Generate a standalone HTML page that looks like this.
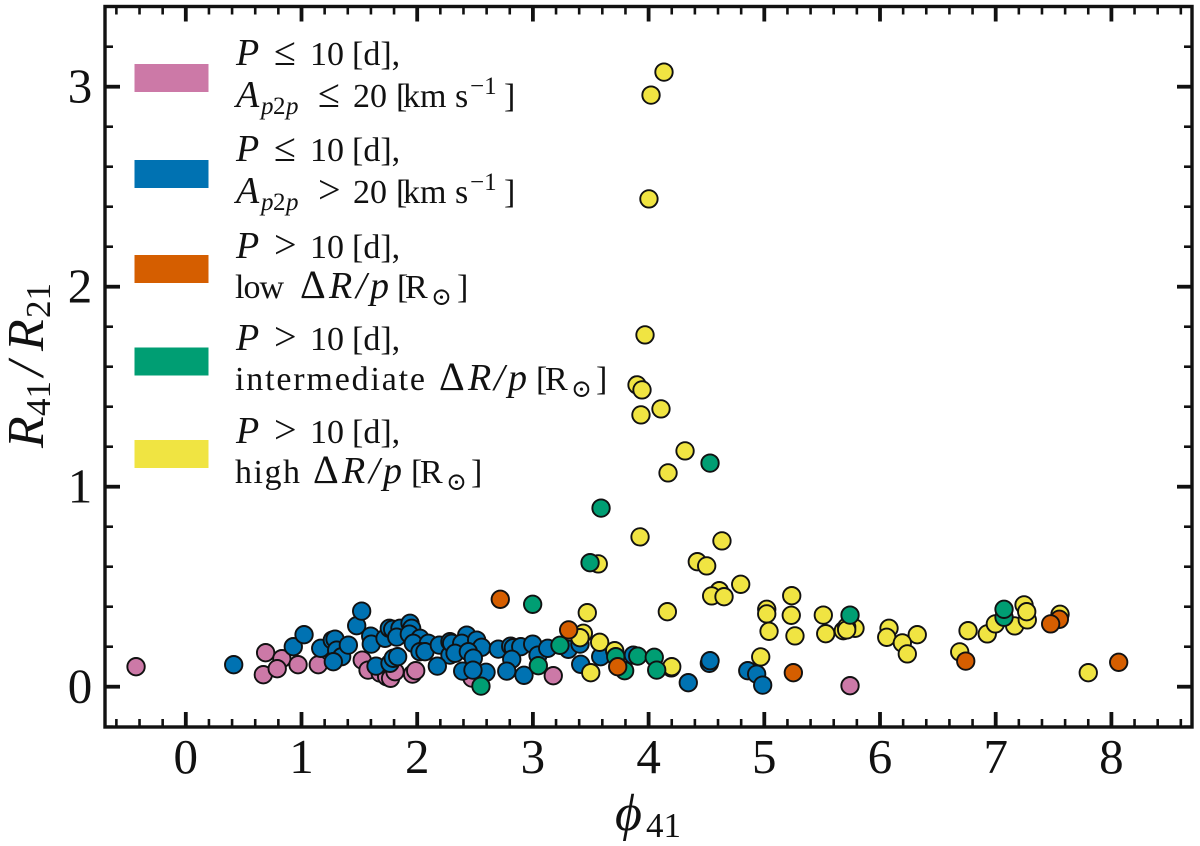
<!DOCTYPE html>
<html lang="en">
<head>
<meta charset="utf-8">
<title>R41/R21 versus phi41 scatter</title>
<style>
html,body{margin:0;padding:0;background:#fff;}
svg{display:block;}
text{font-family:"Liberation Serif","DejaVu Serif",serif;fill:#111;}
.leg{font-size:34px;}
.it{font-style:italic;}
.p{font-style:italic;font-size:38px;}
.m{font-size:40px;}
.sub{font-size:25px;}
.tick{font-size:49px;}
</style>
</head>
<body>
<svg id="chart" xmlns="http://www.w3.org/2000/svg" width="1200" height="846" viewBox="0 0 1200 846">
  <rect x="0" y="0" width="1200" height="846" fill="#fff"/>
  <g id="points"></g>
  <g id="ticks"></g>
  <rect x="105" y="6.5" width="1087" height="720.5" fill="none" stroke="#111" stroke-width="3.4"/>
  <g id="tick-labels"></g>

  <g>
    <text transform="translate(43,448) rotate(-90)" style="font-size:52px" class="it">R</text>
    <text transform="translate(50,416) rotate(-90)" style="font-size:35px">41</text>
    <text transform="translate(43,376) rotate(-90)" style="font-size:52px" class="it">/</text>
    <text transform="translate(43,351) rotate(-90)" style="font-size:52px" class="it">R</text>
    <text transform="translate(50,318) rotate(-90)" style="font-size:35px">21</text>
  </g>
  <g>
    <text x="615" y="830" style="font-size:52px" class="it">&#981;</text>
    <text x="646" y="837" style="font-size:35px">41</text>
  </g>

  <g>
    <g>
      <rect x="134.5" y="64" width="74" height="28" fill="#CC79A7"/>
      <text class="leg"><tspan class="p" x="236" y="65">P</tspan><tspan class="m" x="274" y="65">&#8804;</tspan><tspan x="310" y="65">10</tspan><tspan x="352" y="65">[d],</tspan></text>
      <text class="leg"><tspan class="p" x="236" y="107">A</tspan><tspan class="it sub" x="261" y="114">p</tspan><tspan class="sub" x="273" y="114">2</tspan><tspan class="it sub" x="286" y="114">p</tspan><tspan class="m" x="318" y="107">&#8804;</tspan><tspan x="353" y="107">20</tspan><tspan x="396" y="107">[</tspan><tspan x="403" y="107">km</tspan><tspan x="455" y="107">s</tspan><tspan class="sub" x="470" y="94">&#8722;1</tspan><tspan x="504" y="107">]</tspan></text>
    </g>
    <g>
      <rect x="134.5" y="160" width="74" height="28" fill="#0072B2"/>
      <text class="leg"><tspan class="p" x="236" y="161">P</tspan><tspan class="m" x="274" y="161">&#8804;</tspan><tspan x="310" y="161">10</tspan><tspan x="352" y="161">[d],</tspan></text>
      <text class="leg"><tspan class="p" x="236" y="203">A</tspan><tspan class="it sub" x="261" y="210">p</tspan><tspan class="sub" x="273" y="210">2</tspan><tspan class="it sub" x="286" y="210">p</tspan><tspan class="m" x="318" y="203">&gt;</tspan><tspan x="353" y="203">20</tspan><tspan x="396" y="203">[</tspan><tspan x="403" y="203">km</tspan><tspan x="455" y="203">s</tspan><tspan class="sub" x="470" y="190">&#8722;1</tspan><tspan x="504" y="203">]</tspan></text>
    </g>
    <g>
      <rect x="134.5" y="255" width="74" height="28" fill="#D55E00"/>
      <text class="leg"><tspan class="p" x="236" y="258">P</tspan><tspan class="m" x="274" y="258">&gt;</tspan><tspan x="310" y="258">10</tspan><tspan x="352" y="258">[d],</tspan></text>
      <text class="leg"><tspan x="235" y="298" textLength="49" lengthAdjust="spacing">low</tspan><tspan class="m" x="300" y="298">&#916;</tspan><tspan class="p" x="329" y="298">R</tspan><tspan class="p" x="356" y="298">/</tspan><tspan class="p" x="370" y="298">p</tspan><tspan x="397" y="298">[</tspan><tspan x="405" y="298">R</tspan><tspan class="sub" x="431" y="305">&#8857;</tspan><tspan x="457" y="298">]</tspan></text>
    </g>
    <g>
      <rect x="134.5" y="347.5" width="74" height="28" fill="#009E73"/>
      <text class="leg"><tspan class="p" x="236" y="350">P</tspan><tspan class="m" x="274" y="350">&gt;</tspan><tspan x="310" y="350">10</tspan><tspan x="352" y="350">[d],</tspan></text>
      <text class="leg"><tspan x="235" y="390" textLength="190" lengthAdjust="spacing">intermediate</tspan><tspan class="m" x="439" y="390">&#916;</tspan><tspan class="p" x="468" y="390">R</tspan><tspan class="p" x="494" y="390">/</tspan><tspan class="p" x="508" y="390">p</tspan><tspan x="536" y="390">[</tspan><tspan x="545" y="390">R</tspan><tspan class="sub" x="571" y="397">&#8857;</tspan><tspan x="596" y="390">]</tspan></text>
    </g>
    <g>
      <rect x="134.5" y="440" width="74" height="28" fill="#F0E442"/>
      <text class="leg"><tspan class="p" x="236" y="443">P</tspan><tspan class="m" x="274" y="443">&gt;</tspan><tspan x="310" y="443">10</tspan><tspan x="352" y="443">[d],</tspan></text>
      <text class="leg"><tspan x="235" y="483" textLength="65" lengthAdjust="spacing">high</tspan><tspan class="m" x="313" y="483">&#916;</tspan><tspan class="p" x="342" y="483">R</tspan><tspan class="p" x="369" y="483">/</tspan><tspan class="p" x="383" y="483">p</tspan><tspan x="411" y="483">[</tspan><tspan x="420" y="483">R</tspan><tspan class="sub" x="446" y="490">&#8857;</tspan><tspan x="471" y="483">]</tspan></text>
    </g>
  </g>
</svg>
<script>
const xTickValues = [0, 1, 2, 3, 4, 5, 6, 7, 8];
const yTickValues = [0, 1, 2, 3];
const xTickLabels = ['0', '1', '2', '3', '4', '5', '6', '7', '8'];
const yTickLabels = ['0', '1', '2', '3'];

const pinkX = [-0.43,0.69,0.83,0.67,0.79,0.97,1.145,1.525,1.575,1.68,1.736,1.77,1.808,1.96,1.987,2.474,3.176,5.741];
const pinkY = [0.10,0.17,0.14,0.06,0.09,0.11,0.11,0.133,0.083,0.068,0.05,0.042,0.075,0.063,0.08,0.043,0.055,0.005];

const blueX = [0.414,0.929,1.022,1.166,1.266,1.29,1.304,1.347,1.275,1.405,1.477,1.52,1.598,1.603,1.722,1.759,1.788,1.851,1.823,1.938,1.952,1.932,2.024,1.966,2.096,2.024,2.067,2.191,2.283,2.283,2.174,1.644,1.765,1.793,1.831,2.298,2.428,2.385,2.514,2.557,2.327,2.442,2.485,2.393,2.595,2.482,2.701,2.808,2.831,2.895,2.817,2.774,2.923,2.998,3.044,3.128,3.306,3.407,3.413,3.586,3.868,4.525,4.531,4.343,4.857,4.934,4.986];
const blueY = [0.11,0.20,0.26,0.192,0.233,0.238,0.183,0.15,0.125,0.208,0.305,0.378,0.253,0.213,0.242,0.292,0.287,0.292,0.248,0.317,0.292,0.263,0.242,0.217,0.217,0.175,0.175,0.208,0.225,0.158,0.103,0.103,0.117,0.142,0.15,0.217,0.258,0.217,0.233,0.197,0.167,0.175,0.143,0.078,0.072,0.083,0.188,0.203,0.195,0.20,0.137,0.078,0.057,0.213,0.158,0.192,0.187,0.213,0.112,0.15,0.158,0.117,0.13,0.02,0.08,0.063,0.008];

const yellowX = [4.133,4.021,4.003,3.969,3.9,3.943,3.934,4.107,4.315,4.168,3.926,4.634,3.565,4.421,4.502,4.611,4.545,4.652,4.796,4.162,3.47,3.436,3.407,3.577,3.707,3.5,4.196,4.2,5.237,5.233,5.265,5.021,5.021,5.041,4.969,5.51,5.531,5.683,5.784,5.712,5.712,6.078,6.058,6.322,6.193,6.236,6.689,6.761,6.927,6.997,7.164,7.245,7.273,7.268,7.556,7.8];
const yellowY = [3.073,2.958,2.439,1.759,1.509,1.484,1.359,1.389,1.179,1.069,0.749,0.729,0.614,0.625,0.604,0.48,0.454,0.45,0.512,0.375,0.37,0.267,0.245,0.222,0.18,0.07,0.094,0.10,0.455,0.357,0.254,0.387,0.364,0.277,0.149,0.358,0.265,0.28,0.292,0.299,0.284,0.292,0.247,0.26,0.219,0.164,0.174,0.28,0.264,0.314,0.304,0.409,0.334,0.375,0.362,0.07];

const greenX = [2.998,3.494,3.589,4.531,3.047,3.234,2.551,3.716,3.793,3.906,4.049,4.07,5.741,7.072,7.072];
const greenY = [0.412,0.62,0.893,1.118,0.105,0.207,0.003,0.15,0.08,0.153,0.147,0.083,0.358,0.347,0.387];

const orangeX = [2.718,3.309,3.733,5.251,6.741,7.55,7.475,8.063];
const orangeY = [0.437,0.284,0.10,0.07,0.128,0.337,0.314,0.122];

const NS = 'http://www.w3.org/2000/svg';
const xScale = function (v) { return 185.8 + v * 115.7; };
const yScale = function (v) { return 686.7 - v * 200; };

function drawSeries(xs, ys, color, seriesName) {
  const group = document.getElementById('points');
  for (let i = 0; i < xs.length; i++) {
    const c = document.createElementNS(NS, 'circle');
    c.setAttribute('cx', xScale(xs[i]));
    c.setAttribute('cy', yScale(ys[i]));
    c.setAttribute('r', 8.7);
    c.setAttribute('fill', color);
    c.setAttribute('stroke', '#111');
    c.setAttribute('stroke-width', 1.9);
    
    
    group.appendChild(c);
  }
}

drawSeries(pinkX, pinkY, '#CC79A7', 'pink');
drawSeries(blueX, blueY, '#0072B2', 'blue');
drawSeries(yellowX, yellowY, '#F0E442', 'yellow');
drawSeries(greenX, greenY, '#009E73', 'green');
drawSeries(orangeX, orangeY, '#D55E00', 'orange');

function addTick(x1, y1, x2, y2, width, name) {
  const l = document.createElementNS(NS, 'line');
  l.setAttribute('x1', x1);
  l.setAttribute('y1', y1);
  l.setAttribute('x2', x2);
  l.setAttribute('y2', y2);
  l.setAttribute('stroke', '#111');
  l.setAttribute('stroke-width', width);
  
  
  document.getElementById('ticks').appendChild(l);
}

const TOP = 6.5, BOTTOM = 727, LEFT = 105, RIGHT = 1192;
for (let k = -3; k <= 43; k++) {
  const v = k / 5;
  const major = k % 5 === 0;
  const len = major ? 15 : 8;
  const w = major ? 3.8 : 2.6;
  const px = xScale(v);
  addTick(px, BOTTOM, px, BOTTOM - len, w, major ? 'x-major-tick' : 'x-minor-tick');
  addTick(px, TOP, px, TOP + len, w, major ? 'x-major-tick' : 'x-minor-tick');
}
for (let k = -1; k <= 17; k++) {
  const v = k / 5;
  const major = k % 5 === 0;
  const len = major ? 15 : 8;
  const w = major ? 3.8 : 2.6;
  const py = yScale(v);
  addTick(LEFT, py, LEFT + len, py, w, major ? 'y-major-tick' : 'y-minor-tick');
  addTick(RIGHT, py, RIGHT - len, py, w, major ? 'y-major-tick' : 'y-minor-tick');
}

function addLabel(x, y, str, anchor, name) {
  const t = document.createElementNS(NS, 'text');
  t.setAttribute('x', x);
  t.setAttribute('y', y);
  t.setAttribute('text-anchor', anchor);
  t.setAttribute('class', 'tick');
  
  
  t.textContent = str;
  document.getElementById('tick-labels').appendChild(t);
}
xTickValues.forEach(function (v, i) { addLabel(xScale(v), 773, xTickLabels[i], 'middle', 'x-tick-label'); });
yTickValues.forEach(function (v, i) { addLabel(80, yScale(v) + 16, yTickLabels[i], 'middle', 'y-tick-label'); });
</script>
</body>
</html>
